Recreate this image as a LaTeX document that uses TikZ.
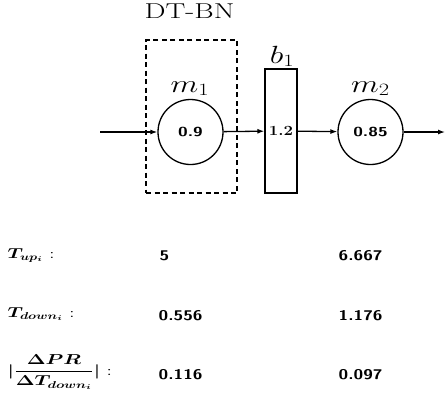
\documentclass[tikz,border=0pt]{standalone}
\usepackage{amsmath}
\usetikzlibrary{arrows.meta}
\newcommand{\wid}[2]{\scalebox{#1}[1]{#2}}
\begin{document}
\begin{tikzpicture}[x=1pt,y=-1pt,
  line width=1.3pt,
  proc/.style={circle,draw,minimum size=65pt,inner sep=0pt},
  buf/.style={draw,rectangle,minimum width=32pt,minimum height=124pt,inner sep=0pt},
  flow/.style={-{Latex[length=7pt,width=5pt]}},
  lab/.style={inner sep=0pt,anchor=base},
  val/.style={inner sep=0pt,anchor=base west,font=\fontsize{14}{16}\selectfont\sffamily\bfseries},
  rowlab/.style={inner sep=0pt,anchor=base west,font=\fontsize{14}{16}\selectfont}
]
\useasboundingbox (0,0) rectangle (445,394);
% machines and buffer
\node[proc] (m1) at (190.5,132) {\wid{1.35}{\fontsize{13}{15}\selectfont\sffamily\bfseries 0.9}};
\node[buf] (b1) at (281,131) {\wid{1.2}{\fontsize{14}{16}\selectfont\bfseries 1.2}};
\node[proc] (m2) at (370.5,132) {\wid{1.35}{\fontsize{13}{15}\selectfont\sffamily\bfseries 0.85}};
% DT-BN dashed box
\node[draw,dashed,dash pattern=on 5pt off 3.5pt,minimum width=91pt,minimum height=153pt,inner sep=0pt] (dt) at (191.5,116.5) {};
\node[lab] (dtl) at (189.5,18) {\wid{1.38}{\fontsize{21.5}{24}\selectfont DT-BN}};
% labels
\node[lab] (m1l) at (190,92) {\wid{1.3}{\fontsize{24}{26}\selectfont $m_1$}};
\node[lab] (b1l) at (282,63) {\wid{1.3}{\fontsize{24}{26}\selectfont $b_1$}};
\node[lab] (m2l) at (370.5,92) {\wid{1.3}{\fontsize{24}{26}\selectfont $m_2$}};
% connectors
\coordinate (in) at (100,132);
\coordinate (out) at (445,132);
\draw[flow] (in) -- (m1);
\draw[flow] (m1) -- (b1);
\draw[flow] (b1) -- (m2);
\draw[flow] (m2) -- (out);
% table
\node[rowlab] (r1) at (7,258) {\wid{1.35}{\boldmath$T_{up_i}$\unboldmath\ :}};
\node[rowlab] (r2) at (7,317) {\wid{1.35}{\boldmath$T_{down_i}$\unboldmath\ :}};
\node[rowlab] (r3) at (7,375) {\wid{1.4}{\boldmath$|\dfrac{\Delta PR}{\Delta T_{down_i}}|$\unboldmath\ :}};
\node[val] (v11) at (159,260) {\wid{1.25}{5}};
\node[val] (v12) at (338,260) {\wid{1.25}{6.667}};
\node[val] (v21) at (158,320) {\wid{1.25}{0.556}};
\node[val] (v22) at (338,320) {\wid{1.25}{1.176}};
\node[val] (v31) at (158,379) {\wid{1.25}{0.116}};
\node[val] (v32) at (338,379) {\wid{1.25}{0.097}};
\end{tikzpicture}
\end{document}
